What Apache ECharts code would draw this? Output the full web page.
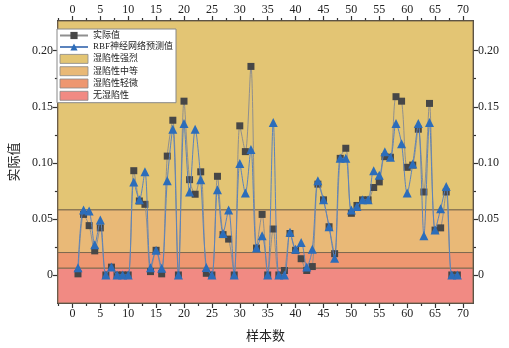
<!DOCTYPE html>
<html>
<head>
<meta charset="utf-8">
<script src="https://cdn.jsdelivr.net/npm/echarts@6/dist/echarts.min.js"></script>
<style>html,body{margin:0;padding:0;background:#fff;}#c{width:509px;height:348px;}</style>
</head>
<body>
<div id="c"></div>
<script>
const samples = [1,2,3,4,5,6,7,8,9,10,11,12,13,14,15,16,17,18,19,20,21,22,23,24,25,26,27,28,29,30,31,32,33,34,35,36,37,38,39,40,41,42,43,44,45,46,47,48,49,50,51,52,53,54,55,56,57,58,59,60,61,62,63,64,65,66,67,68,69];
const actual = [0.001,0.054,0.044,0.0215,0.042,0,0.007,0,0,0,0.093,0.066,0.063,0.003,0.022,0.001,0.106,0.138,0,0.155,0.085,0.072,0.092,0.0015,0,0.088,0.036,0.032,0,0.133,0.110,0.186,0.024,0.054,0,0.041,0,0.004,0.037,0.022,0.0145,0.004,0.0075,0.081,0.067,0.043,0.019,0.104,0.113,0.055,0.062,0.067,0.067,0.078,0.083,0.1055,0.105,0.159,0.155,0.096,0.098,0.130,0.074,0.153,0.040,0.042,0.074,0,0];
const predicted = [0.0065,0.058,0.057,0.027,0.049,0,0.007,0,0,0,0.083,0.067,0.092,0.0065,0.022,0.006,0.084,0.130,0,0.135,0.074,0.130,0.085,0.0067,0,0.076,0.037,0.058,0,0.0995,0.073,0.112,0.024,0.035,0,0.136,0,0,0.038,0.023,0.029,0.007,0.023,0.084,0.067,0.043,0.015,0.104,0.104,0.058,0.061,0.067,0.067,0.093,0.089,0.110,0.105,0.135,0.117,0.073,0.099,0.135,0.035,0.136,0.040,0.059,0.079,0,0];
const bandNames = ['湿陷性强烈','湿陷性中等','湿陷性轻微','无湿陷性'];
const bandLimits = [[0.058, 0.2265],[0.020, 0.058],[0.006, 0.020],[-0.025, 0.006]];
const xMajor = [0,5,10,15,20,25,30,35,40,45,50,55,60,65,70];
const xMinor = [-2.5,2.5,7.5,12.5,17.5,22.5,27.5,32.5,37.5,42.5,47.5,52.5,57.5,62.5,67.5];
const yMajor = [0,0.05,0.10,0.15,0.20];
const yMinor = [0.025,0.075,0.125,0.175];
const seriesNames = ['实际值','RBF神经网络预测值'];

const bandColors = ['#E3C574','#E9B977','#EE9770','#F18A83'];
const FONT = 'Liberation Serif, Times New Roman, Noto Sans CJK SC, serif';
const XMIN = -2.6, XMAX = 71.8, YMIN = -0.025, YMAX = 0.2265;

function xAx(pos, ticks, len, showLabel, name) {
  return {
    type: 'value', position: pos, min: XMIN, max: XMAX,
    name: name || '', nameLocation: 'middle', nameGap: 27,
    nameTextStyle: {fontFamily: FONT, fontSize: 13, color: '#222'},
    axisLine: {show: true, onZero: false, lineStyle: {color: '#333', width: 1.5}},
    axisTick: {show: true, inside: false, length: len, customValues: ticks, lineStyle: {color: '#333', width: 1.2}},
    axisLabel: {show: showLabel, customValues: ticks, fontFamily: FONT, fontSize: 12, color: '#222', margin: 5},
    splitLine: {show: false}
  };
}
function yAx(pos, ticks, len, showLabel, name) {
  return {
    type: 'value', position: pos, min: YMIN, max: YMAX,
    name: name || '', nameLocation: 'middle', nameGap: 34, nameRotate: 90,
    nameTextStyle: {fontFamily: FONT, fontSize: 13, color: '#222'},
    axisLine: {show: true, onZero: false, lineStyle: {color: '#333', width: 1.5}},
    axisTick: {show: true, inside: false, length: len, customValues: ticks, lineStyle: {color: '#333', width: 1.2}},
    axisLabel: {show: showLabel, customValues: ticks, fontFamily: FONT, fontSize: 12, color: '#222', margin: 5,
      formatter: v => Math.abs(v) < 1e-9 ? '0' : v.toFixed(2)},
    splitLine: {show: false}
  };
}

const chart = echarts.init(document.getElementById('c'), null, {renderer: 'canvas'});

const bandSeries = bandNames.map((n, i) => ({
  name: n, type: 'line', data: [], xAxisIndex: 0, yAxisIndex: 0, z: 1,
  itemStyle: {color: bandColors[i]}, lineStyle: {color: bandColors[i]},
  markArea: {
    silent: true,
    itemStyle: {color: bandColors[i], opacity: 1, borderColor: '#7d6a4f', borderWidth: 1},
    data: [[{xAxis: XMIN, yAxis: bandLimits[i][0]}, {xAxis: XMAX, yAxis: bandLimits[i][1]}]]
  }
}));

const option = {
  animation: false,
  backgroundColor: '#fff',
  grid: {left: 52, right: 36, top: 21, bottom: 39, containLabel: false},
  xAxis: [
    xAx('bottom', xMajor, 5, true, '样本数'),
    xAx('bottom', xMinor, 3, false),
    xAx('top', xMajor, 5, true),
    xAx('top', xMinor, 3, false)
  ],
  yAxis: [
    yAx('left', yMajor, 5, true, '实际值'),
    yAx('left', yMinor, 3, false),
    yAx('right', yMajor, 5, true),
    yAx('right', yMinor, 3, false)
  ],
  legend: {
    orient: 'vertical', left: 57, top: 29,
    backgroundColor: '#fff', borderColor: '#888', borderWidth: 1,
    padding: [2, 3, 2, 2], itemWidth: 28, itemHeight: 9, itemGap: 2.5,
    textStyle: {fontFamily: FONT, fontSize: 9, color: '#222', lineHeight: 9},
    data: [
      {name: seriesNames[0]},
      {name: seriesNames[1]},
      ...bandNames.map(n => ({name: n, icon: 'rect', itemStyle: {borderColor: '#888', borderWidth: 0.8}}))
    ]
  },
  series: [
    ...bandSeries,
    {
      name: seriesNames[0], type: 'line', xAxisIndex: 0, yAxisIndex: 0, z: 3,
      data: samples.map((s, i) => [s, actual[i]]),
      smooth: 0.3, symbol: 'rect', symbolSize: 7,
      itemStyle: {color: '#474747'},
      lineStyle: {color: '#8f8f8f', width: 1}
    },
    {
      name: seriesNames[1], type: 'line', xAxisIndex: 0, yAxisIndex: 0, z: 4,
      data: samples.map((s, i) => [s, predicted[i]]),
      smooth: 0.3, symbol: 'triangle', symbolSize: 9,
      itemStyle: {color: '#2C6DBA'},
      lineStyle: {color: '#5b83bd', width: 1}
    }
  ]
};
chart.setOption(option);
</script>
</body>
</html>
